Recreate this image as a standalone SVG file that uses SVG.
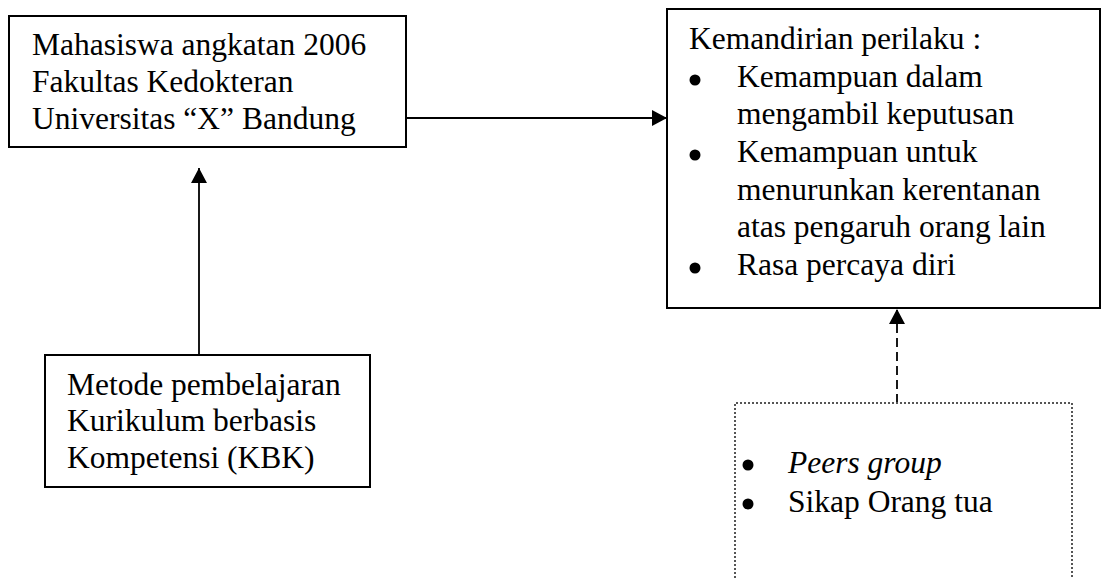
<svg xmlns="http://www.w3.org/2000/svg" width="1104" height="578" viewBox="0 0 1104 578">
<style>
  .box { fill: #fff; stroke: #000; stroke-width: 2; }
  .dotbox { fill: none; stroke: #555; stroke-width: 2; stroke-dasharray: 2 2; }
  .t { font-family: "Liberation Serif", "Times New Roman", serif; font-size: 31.5px; fill: #000; }
  .it { font-style: italic; }
  .conn { stroke: #000; stroke-width: 1.8; fill: none; }
  .dash { stroke-dasharray: 9 5; }
</style>
<defs>
  <marker id="arr" viewBox="0 0 15 16" refX="15" refY="8" markerWidth="15" markerHeight="16" markerUnits="userSpaceOnUse" orient="auto">
    <path d="M0,0 L15,8 L0,16 Z" fill="#000"/>
  </marker>
</defs>
<g id="connectors">
  <line class="conn" x1="406" y1="118" x2="667" y2="118" marker-end="url(#arr)"/>
  <line class="conn" x1="199" y1="355" x2="199" y2="168" marker-end="url(#arr)"/>
  <line class="conn dash" x1="897" y1="403" x2="897" y2="309" marker-end="url(#arr)"/>
</g>
<g id="node-mahasiswa">
  <rect class="box" x="9" y="16" width="397" height="131"/>
  <text class="t" x="32" y="55">Mahasiswa angkatan 2006</text>
  <text class="t" x="32" y="92">Fakultas Kedokteran</text>
  <text class="t" x="32" y="129">Universitas “X” Bandung</text>
</g>
<g id="node-kemandirian">
  <rect class="box" x="667" y="9" width="433" height="299"/>
  <text class="t" x="689" y="49">Kemandirian perilaku :</text>
  <circle cx="695" cy="80" r="5.5"/>
  <text class="t" x="737" y="87">Kemampuan dalam</text>
  <text class="t" x="737" y="124">mengambil keputusan</text>
  <circle cx="695" cy="155" r="5.5"/>
  <text class="t" x="737" y="162">Kemampuan untuk</text>
  <text class="t" x="737" y="200">menurunkan kerentanan</text>
  <text class="t" x="737" y="237">atas pengaruh orang lain</text>
  <circle cx="695" cy="268" r="5.5"/>
  <text class="t" x="737" y="275">Rasa percaya diri</text>
</g>
<g id="node-metode">
  <rect class="box" x="45" y="355" width="325" height="132"/>
  <text class="t" x="67" y="395">Metode pembelajaran</text>
  <text class="t" x="67" y="431">Kurikulum berbasis</text>
  <text class="t" x="67" y="468">Kompetensi (KBK)</text>
</g>
<g id="node-faktor">
  <path class="dotbox" d="M735,590 L735,403 L1072,403 L1072,590"/>
  <circle cx="748" cy="465" r="5.5"/>
  <text class="t it" x="788" y="473">Peers group</text>
  <circle cx="748" cy="504" r="5.5"/>
  <text class="t" x="788" y="512">Sikap Orang tua</text>
</g>
</svg>
